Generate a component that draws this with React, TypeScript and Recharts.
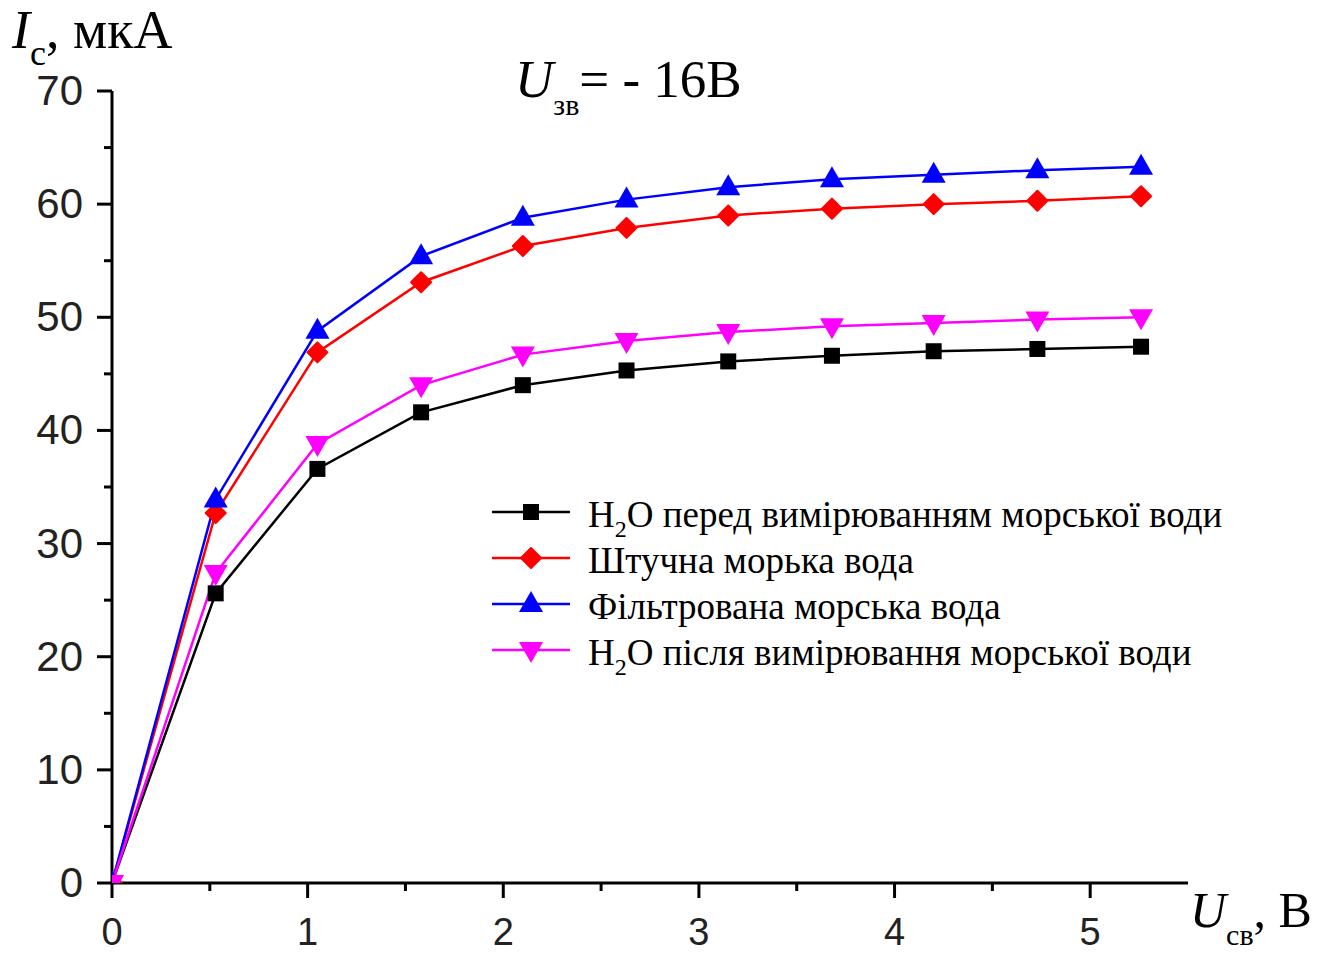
import React from 'react';
import { LineChart, Line, XAxis, YAxis } from 'recharts';

// U_св, В
const uValues = [0, 0.53, 1.05, 1.58, 2.1, 2.63, 3.15, 3.68, 4.2, 4.73, 5.26];
// I_с, мкА
const waterBefore = [0, 25.6, 36.6, 41.6, 44.0, 45.3, 46.1, 46.6, 47.0, 47.2, 47.4];
const artificialSea = [0, 32.7, 46.9, 53.1, 56.3, 57.9, 59.0, 59.6, 60.0, 60.3, 60.7];
const filteredSea = [0, 33.9, 48.8, 55.4, 58.8, 60.4, 61.5, 62.2, 62.6, 63.0, 63.3];
const waterAfter = [0, 27.4, 38.8, 44.0, 46.7, 47.9, 48.7, 49.2, 49.5, 49.8, 50.0];

const xTicks = [0, 0.5, 1, 1.5, 2, 2.5, 3, 3.5, 4, 4.5, 5];
const yTicks = [0, 5, 10, 15, 20, 25, 30, 35, 40, 45, 50, 55, 60, 65, 70];

const series = [
  { key: 'before', name: 'H2O перед вимірюванням морської води', color: '#000000', marker: 'square', values: waterBefore },
  { key: 'artificial', name: 'Штучна морька вода', color: '#ff0000', marker: 'diamond', values: artificialSea },
  { key: 'filtered', name: 'Фільтрована морська вода', color: '#0000ff', marker: 'up', values: filteredSea },
  { key: 'after', name: 'H2O після вимірювання морської води', color: '#ff00ff', marker: 'down', values: waterAfter },
];

const data = uValues.map((u, i) => {
  const row: Record<string, number> = { u };
  series.forEach((s) => {
    row[s.key] = s.values[i];
  });
  return row;
});

const serif = '"Liberation Serif", "Times New Roman", serif';
const sans = '"Liberation Sans", Arial, sans-serif';

function Marker({ kind, cx, cy, color }: { kind: string; cx: number; cy: number; color: string }) {
  if (kind === 'square') {
    return <rect x={cx - 8} y={cy - 8} width={16} height={16} fill={color} />;
  }
  if (kind === 'diamond') {
    return (
      <polygon
        points={`${cx},${cy - 10} ${cx + 10},${cy} ${cx},${cy + 10} ${cx - 10},${cy}`}
        fill={color}
        stroke={color}
        strokeWidth={2}
        strokeLinejoin="round"
      />
    );
  }
  if (kind === 'up') {
    return <polygon points={`${cx},${cy - 13} ${cx + 12},${cy + 8} ${cx - 12},${cy + 8}`} fill={color} />;
  }
  return <polygon points={`${cx},${cy + 13} ${cx + 12},${cy - 8} ${cx - 12},${cy - 8}`} fill={color} />;
}

function XTick(props: any) {
  const { x, y, payload } = props;
  const major = Number.isInteger(payload.value);
  return (
    <g>
      <line x1={x} x2={x} y1={y} y2={y + (major ? 15 : 8)} stroke="#000" strokeWidth={3} />
      {major && (
        <text x={x} y={y + 62} textAnchor="middle" fontSize={38} fontFamily={sans} fill="#222">
          {payload.value}
        </text>
      )}
    </g>
  );
}

function YTick(props: any) {
  const { x, y, payload } = props;
  const major = payload.value % 10 === 0;
  return (
    <g>
      <line x1={x} x2={x - (major ? 15 : 8)} y1={y} y2={y} stroke="#000" strokeWidth={3} />
      {major && (
        <text x={x - 29} y={y + 14} textAnchor="end" fontSize={42} fontFamily={sans} fill="#222">
          {payload.value}
        </text>
      )}
    </g>
  );
}

function LegendName({ name, x, y }: { name: string; x: number; y: number }) {
  if (name.startsWith('H2O')) {
    return (
      <text x={x} y={y} fontSize={37} fontFamily={serif} fill="#000">
        H
        <tspan fontSize={24} dy={10}>2</tspan>
        <tspan dy={-10}>{name.slice(2)}</tspan>
      </text>
    );
  }
  return (
    <text x={x} y={y} fontSize={37} fontFamily={serif} fill="#000">
      {name}
    </text>
  );
}

export default function App() {
  return (
    <div style={{ position: 'absolute', left: 0, top: 0, width: 1326, height: 953, background: '#fff' }}>
      <LineChart width={1326} height={953} data={data} margin={{ top: 91, right: 138, bottom: 0, left: 0 }}>
        <XAxis
          dataKey="u"
          type="number"
          domain={[0, 5.5]}
          ticks={xTicks}
          interval={0}
          allowDataOverflow
          height={70}
          tickSize={0}
          tickMargin={0}
          tickLine={false}
          axisLine={{ stroke: '#000', strokeWidth: 3 }}
          tick={<XTick />}
        />
        <YAxis
          type="number"
          domain={[0, 70]}
          ticks={yTicks}
          interval={0}
          allowDataOverflow
          width={112}
          tickSize={0}
          tickMargin={0}
          tickLine={false}
          axisLine={{ stroke: '#000', strokeWidth: 3 }}
          tick={<YTick />}
        />
        {series.map((s) => (
          <Line
            key={s.key}
            dataKey={s.key}
            name={s.name}
            type="linear"
            stroke={s.color}
            strokeWidth={2.5}
            isAnimationActive={false}
            activeDot={false}
            dot={(p: any) => (
              <Marker key={`${s.key}-${p.index}`} kind={s.marker} cx={p.cx} cy={p.cy} color={s.color} />
            )}
          />
        ))}
      </LineChart>

      <svg
        width={1326}
        height={953}
        style={{ position: 'absolute', left: 0, top: 0, pointerEvents: 'none' }}
      >
        <text x={12} y={48} fontSize={54} fontFamily={serif} fill="#000">
          <tspan fontStyle="italic">I</tspan>
          <tspan fontSize={36} dy={17}>с</tspan>
          <tspan dy={-17}>, мкА</tspan>
        </text>

        <text x={515} y={97} fontSize={53} fontFamily={serif} fill="#000">
          <tspan fontStyle="italic">U</tspan>
          <tspan fontSize={30} dy={18}>зв</tspan>
          <tspan dy={-18}>= - 16В</tspan>
        </text>

        <text x={1190} y={927} fontSize={50} fontFamily={serif} fill="#000">
          <tspan fontStyle="italic">U</tspan>
          <tspan fontSize={30} dy={18}>св</tspan>
          <tspan dy={-18}>, В</tspan>
        </text>

        {series.map((s, i) => {
          const cy = 512 + i * 46;
          return (
            <g key={s.key}>
              <line x1={492} x2={570} y1={cy} y2={cy} stroke={s.color} strokeWidth={2.5} />
              <Marker kind={s.marker} cx={531} cy={cy} color={s.color} />
              <LegendName name={s.name} x={588} y={cy + 15} />
            </g>
          );
        })}
      </svg>
    </div>
  );
}
